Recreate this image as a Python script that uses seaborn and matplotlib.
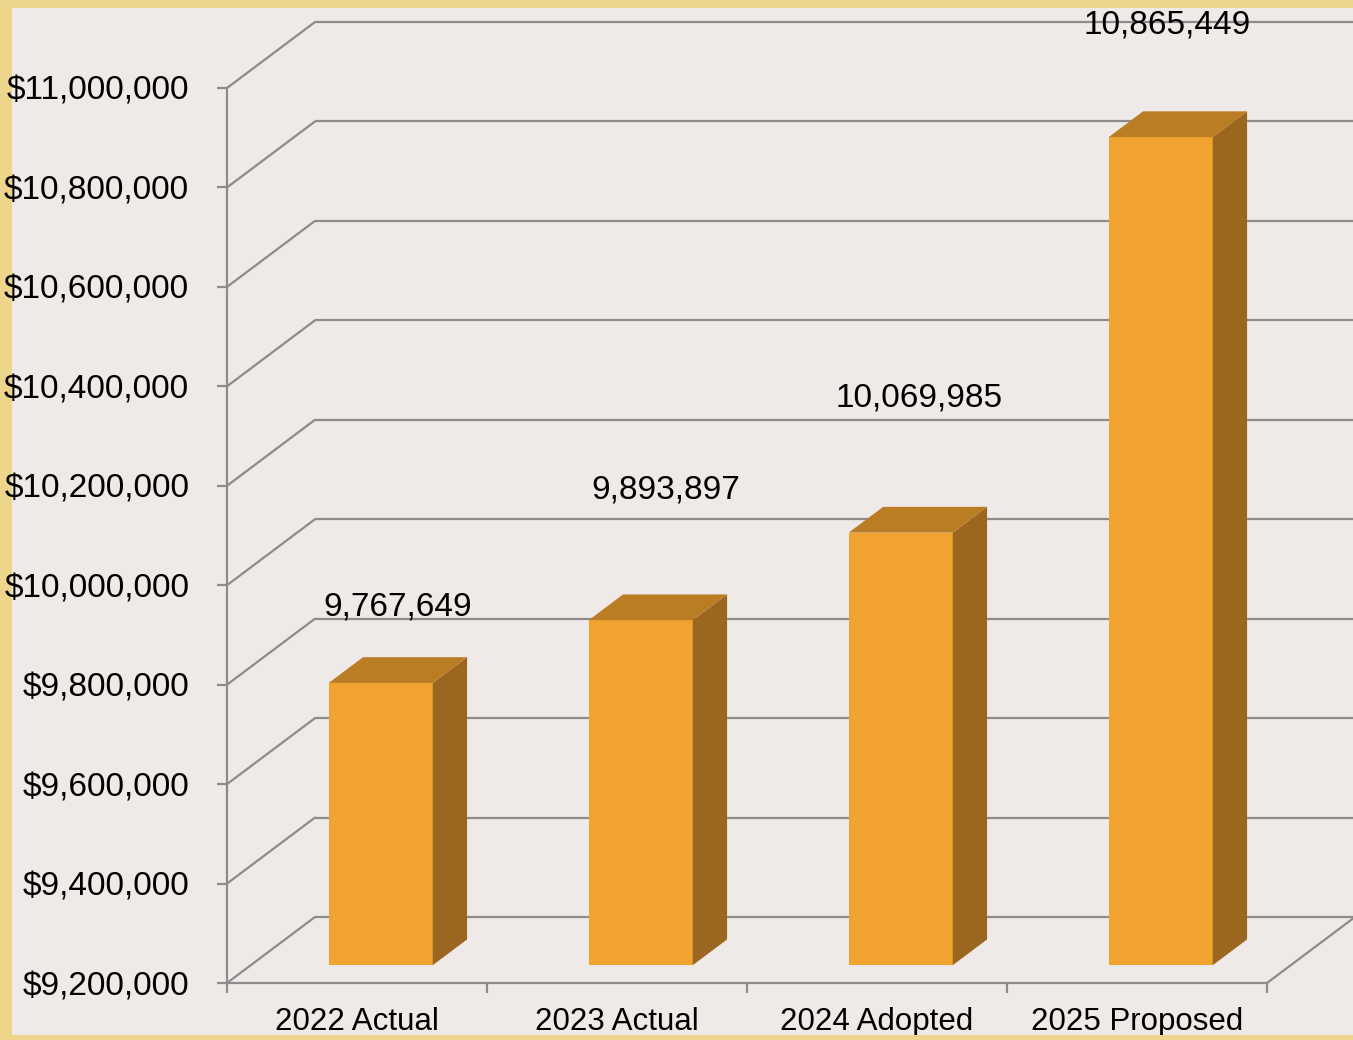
import matplotlib
matplotlib.use("Agg")
import matplotlib.pyplot as plt
from matplotlib.patches import Polygon, Rectangle
import seaborn as sns
import pandas as pd

# ---- data ----
categories = ["2022 Actual", "2023 Actual", "2024 Adopted", "2025 Proposed"]
values = [9767649, 9893897, 10069985, 10865449]
value_labels = ["9,767,649", "9,893,897", "10,069,985", "10,865,449"]
y_ticks = [9200000, 9400000, 9600000, 9800000, 10000000, 10200000,
           10400000, 10600000, 10800000, 11000000]
y_tick_labels = ["$9,200,000", "$9,400,000", "$9,600,000", "$9,800,000",
                 "$10,000,000", "$10,200,000", "$10,400,000", "$10,600,000",
                 "$10,800,000", "$11,000,000"]

# ---- style ----
W, H = 1353, 1040
PARCH = "#EED58C"
PANEL = "#EFE9E7"
GRID = "#8C8C8C"
FRONT = "#F0A32F"
TOP = "#BA7D23"
SIDE = "#9B6620"
FONT = ["Liberation Sans", "DejaVu Sans"]

sns.set_theme(style="white")
plt.rcParams["font.family"] = FONT
plt.rcParams["text.color"] = "black"

fig = plt.figure(figsize=(W / 100, H / 100), dpi=100)
fig.patch.set_facecolor(PARCH)

# panel behind the chart
fig.patches.append(Rectangle((12 / W, (H - 1035) / H), (W - 12) / W, (1035 - 8) / H,
                             transform=fig.transFigure, facecolor=PANEL,
                             edgecolor="none", zorder=-5))
# bottom parchment strip drawn over the chart
fig.patches.append(Rectangle((0, 0), 1, (H - 1035) / H, transform=fig.transFigure,
                             facecolor=PARCH, edgecolor="none", zorder=20))

ax = fig.add_axes([227 / W, (H - 983) / H, 1040 / W, 895 / H])
ax.patch.set_visible(False)

ymin, ymax = y_ticks[0], y_ticks[-1]
xmin, xmax = -0.5, len(categories) - 0.5
px_per_val = 895 / (ymax - ymin)
px_per_cat = 1040 / len(categories)

# depth projection (in data units)
DX = 88 / px_per_cat
DY = 66 / px_per_val
z0, z1 = 0.27, 0.66
bw = 0.4

# back wall gridlines and diagonals
for v in y_ticks:
    ax.plot([xmin, xmin + DX], [v, v + DY], color=GRID, lw=1.6, zorder=1, clip_on=False)
    ax.plot([xmin + DX, xmax + DX], [v + DY, v + DY], color=GRID, lw=1.6,
            zorder=1, clip_on=False, solid_capstyle="butt")
# floor right edge
ax.plot([xmax, xmax + DX], [ymin, ymin + DY], color=GRID, lw=1.6, zorder=1, clip_on=False)

# front faces via seaborn
df = pd.DataFrame({"cat": categories, "val": values})
sns.barplot(data=df, x="cat", y="val", color=FRONT, saturation=1, width=bw, ax=ax, zorder=3)
for i, p in enumerate(ax.patches):
    p.set_x(i - bw / 2 + z0 * DX)
    p.set_y(ymin + z0 * DY)
    p.set_height(values[i] - ymin)
    p.set_facecolor(FRONT)
    p.set_edgecolor("none")
    p.set_clip_on(False)

# side and top faces
for i, v in enumerate(values):
    xl = i - bw / 2
    xr = i + bw / 2
    side = [(xr + z0 * DX, ymin + z0 * DY), (xr + z1 * DX, ymin + z1 * DY),
            (xr + z1 * DX, v + z1 * DY), (xr + z0 * DX, v + z0 * DY)]
    top = [(xl + z0 * DX, v + z0 * DY), (xr + z0 * DX, v + z0 * DY),
           (xr + z1 * DX, v + z1 * DY), (xl + z1 * DX, v + z1 * DY)]
    ax.add_patch(Polygon(side, closed=True, facecolor=SIDE, edgecolor="none",
                         zorder=3, clip_on=False))
    ax.add_patch(Polygon(top, closed=True, facecolor=TOP, edgecolor="none",
                         zorder=3, clip_on=False))

# value labels (pixel offsets from top-back of bar)
lab_dy_px = [50, 104, 109, 86]
lab_dx_px = [0, 8, 1, -11]
for i, v in enumerate(values):
    xc = i + (z0 + z1) / 2 * DX
    ax.annotate(value_labels[i], xy=(xc, v + z1 * DY),
                xytext=(lab_dx_px[i] * 0.72, lab_dy_px[i] * 0.72),
                textcoords="offset points", ha="center", va="center",
                fontsize=24, color="black", annotation_clip=False, zorder=5)

ax.set_xlim(xmin, xmax)
ax.set_ylim(ymin, ymax)

ax.set_yticks(y_ticks)
ax.set_yticklabels(y_tick_labels, fontsize=24)
ax.set_xticks(range(len(categories)))
ax.set_xticklabels(categories, fontsize=22.5)
ax.set_xticks([i - 0.5 for i in range(len(categories) + 1)], minor=True)
ax.tick_params(axis="y", which="major", direction="out", length=7.2, width=1.6,
               color=GRID, pad=20, left=True, labelcolor="black")
ax.tick_params(axis="x", which="major", length=0, pad=17, labelcolor="black")
ax.tick_params(axis="x", which="minor", direction="out", length=7.2, width=1.6,
               color=GRID, bottom=True)
ax.set_xlabel("")
ax.set_ylabel("")
for s in ["top", "right"]:
    ax.spines[s].set_visible(False)
for s in ["left", "bottom"]:
    ax.spines[s].set_color(GRID)
    ax.spines[s].set_linewidth(1.6)
    ax.spines[s].set_zorder(2)

fig.savefig("out.png", dpi=100, facecolor=PARCH)
